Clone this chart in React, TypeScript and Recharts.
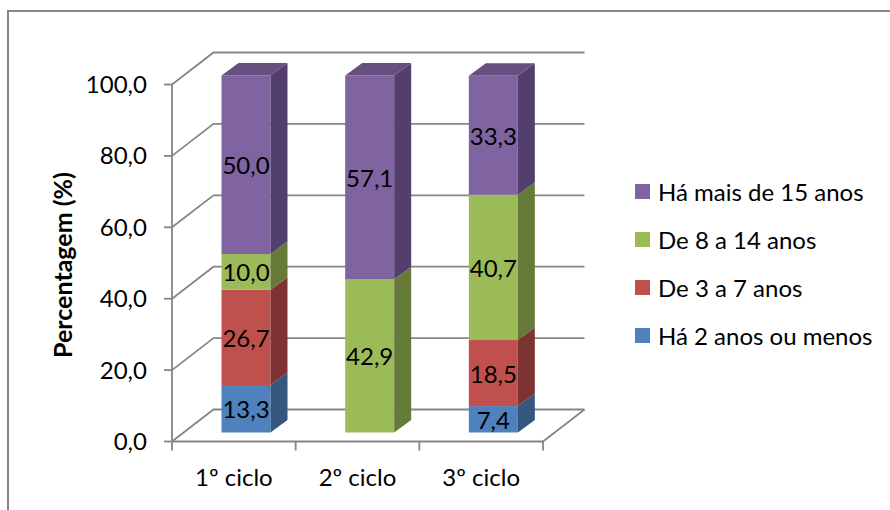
import React from 'react';
import { BarChart, Bar, XAxis, YAxis, CartesianGrid, Legend, LabelList } from 'recharts';

const categories = ['1º ciclo', '2º ciclo', '3º ciclo'];
const ate2Anos = [13.3, 0, 7.4];
const de3a7Anos = [26.7, 0, 18.5];
const de8a14Anos = [10.0, 42.9, 40.7];
const mais15Anos = [50.0, 57.1, 33.3];
const yTicks = [0, 20, 40, 60, 80, 100];

const series = [
  { key: 'ate2', name: 'Há 2 anos ou menos', values: ate2Anos, front: '#4f81bd', side: '#34567f' },
  { key: 'de3a7', name: 'De 3 a 7 anos', values: de3a7Anos, front: '#c0504d', side: '#7d3331' },
  { key: 'de8a14', name: 'De 8 a 14 anos', values: de8a14Anos, front: '#9bbb59', side: '#667b3a' },
  { key: 'mais15', name: 'Há mais de 15 anos', values: mais15Anos, front: '#8064a2', side: '#533f6d' },
];

const data = categories.map((ciclo, i) => {
  const row: Record<string, string | number> = { ciclo };
  series.forEach((s) => {
    row[s.key] = s.values[i];
  });
  return row;
});

const FONT = 'Lato, sans-serif';
const LINE = '#868686';
const WALL_DX = 41.5;
const WALL_DY = 32;
// the columns stand partway into the floor, behind the front plane
const BAR_DX = 12.5;
const BAR_DY = 9;
const DEPTH_DX = 17;
const DEPTH_DY = 12.5;

const comma = (v: number) => v.toFixed(1).replace('.', ',');

// back wall line plus the diagonal on the side wall, and the floor edge at zero
const WallLine = (props: any) => {
  const { x1, x2, y1, y, height } = props;
  const isFloor = y1 >= y + height - 0.5;
  return (
    <g fill="none" stroke={LINE} strokeWidth={1.8}>
      <polyline points={`${x1},${y1} ${x1 + WALL_DX},${y1 - WALL_DY} ${x2 + WALL_DX},${y1 - WALL_DY}`} />
      {isFloor && <line x1={x2} y1={y1} x2={x2 + WALL_DX} y2={y1 - WALL_DY} />}
    </g>
  );
};

const Column = (props: any) => {
  const { x, y, width, height, front, side, top } = props;
  if (!height) return null;
  const l = x + BAR_DX;
  const t = y - BAR_DY;
  const r = l + width;
  const b = t + height;
  return (
    <g>
      <rect x={l} y={t} width={width} height={height} fill={front} />
      <polygon
        points={`${r},${t} ${r + DEPTH_DX},${t - DEPTH_DY} ${r + DEPTH_DX},${b - DEPTH_DY} ${r},${b}`}
        fill={side}
      />
      {top && (
        <polygon
          points={`${l},${t} ${l + DEPTH_DX},${t - DEPTH_DY} ${r + DEPTH_DX},${t - DEPTH_DY} ${r},${t}`}
          fill={top}
        />
      )}
    </g>
  );
};

const ValueLabel = (props: any) => {
  const { x, y, width, height, value } = props;
  if (!value) return null;
  return (
    <text
      x={x + BAR_DX + width / 2}
      y={y - BAR_DY + height / 2}
      textAnchor="middle"
      dominantBaseline="central"
      fontFamily={FONT}
      fontSize={24}
      fill="#000"
    >
      {comma(value)}
    </text>
  );
};

// category ticks sit on the band edges, labels in the middle of the band
const CategoryTick = (props: any) => {
  const { x, y, payload, index, visibleTicksCount, width } = props;
  const band = width / visibleTicksCount;
  const axisY = y - 8;
  return (
    <g>
      <line x1={x - band / 2} x2={x - band / 2} y1={axisY} y2={axisY + 9} stroke={LINE} strokeWidth={1.8} />
      {index === visibleTicksCount - 1 && (
        <line x1={x + band / 2} x2={x + band / 2} y1={axisY} y2={axisY + 9} stroke={LINE} strokeWidth={1.8} />
      )}
      <text x={x} y={axisY + 35} textAnchor="middle" dominantBaseline="central" fontFamily={FONT} fontSize={24} fill="#000">
        {payload.value}
      </text>
    </g>
  );
};

const LegendList = (props: any) => {
  const items = [...(props.payload ?? [])].reverse();
  return (
    <div style={{ fontFamily: FONT, fontSize: 24, color: '#000' }}>
      {items.map((item: any) => (
        <div key={item.value} style={{ display: 'flex', alignItems: 'center', height: 48 }}>
          <span style={{ width: 15, height: 15, background: item.color, marginRight: 8 }} />
          <span style={{ whiteSpace: 'nowrap' }}>{item.value}</span>
        </div>
      ))}
    </div>
  );
};

export default function App() {
  return (
    <div style={{ position: 'absolute', left: 0, top: 0, width: 890, height: 510, background: '#fff', overflow: 'hidden' }}>
      <div
        style={{
          position: 'absolute',
          left: 7,
          top: 10,
          right: 0,
          bottom: 0,
          borderTop: `2px solid ${LINE}`,
          borderLeft: `2px solid ${LINE}`,
          boxSizing: 'border-box',
        }}
      />
      <BarChart
        width={890}
        height={510}
        data={data}
        margin={{ top: 84.5, right: 347, bottom: 0, left: 0 }}
        barSize={49}
        style={{ position: 'absolute', left: 0, top: 0 }}
      >
        <CartesianGrid vertical={false} horizontal={WallLine} />
        <XAxis
          dataKey="ciclo"
          height={68.5}
          stroke={LINE}
          strokeWidth={1.8}
          tickLine={false}
          tick={CategoryTick}
          interval={0}
        />
        <YAxis
          width={172}
          domain={[0, 100]}
          ticks={yTicks}
          tickFormatter={comma}
          stroke={LINE}
          strokeWidth={1.8}
          tickSize={8}
          tickMargin={17}
          tick={{ fill: '#000', fontFamily: FONT, fontSize: 24 }}
          label={{
            value: 'Percentagem (%)',
            angle: -90,
            position: 'center',
            dx: -23,
            dy: 2,
            fill: '#000',
            fontFamily: FONT,
            fontSize: 25,
            fontWeight: 700,
          }}
        />
        <Legend
          layout="horizontal"
          align="center"
          verticalAlign="middle"
          itemSorter={null}
          content={<LegendList />}
          wrapperStyle={{ left: 635, top: 167, width: 250 }}
        />
        {series.map((s, i) => (
          <Bar
            key={s.key}
            dataKey={s.key}
            name={s.name}
            stackId="tempo"
            fill={s.front}
            isAnimationActive={false}
            shape={(p: any) => (
              <Column {...p} front={s.front} side={s.side} top={i === series.length - 1 ? '#65507f' : undefined} />
            )}
          >
            <LabelList dataKey={s.key} content={ValueLabel} />
          </Bar>
        ))}
      </BarChart>
    </div>
  );
}
